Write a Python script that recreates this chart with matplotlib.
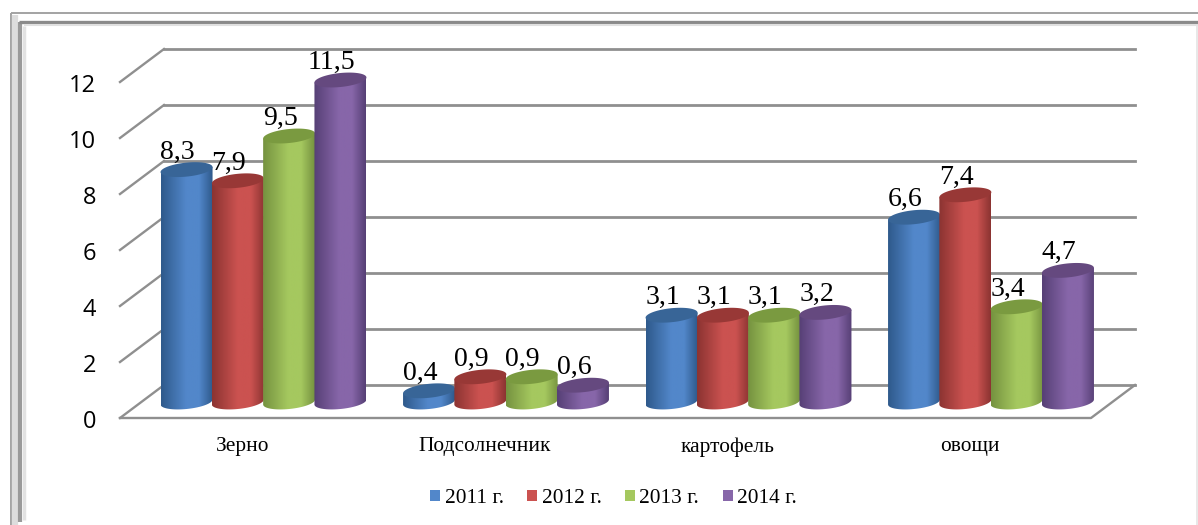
import numpy as np
import matplotlib
matplotlib.use('Agg')
import matplotlib.pyplot as plt
from matplotlib.colors import LinearSegmentedColormap
from matplotlib.patches import PathPatch, Rectangle
from matplotlib.path import Path

categories = ['Зерно', 'Подсолнечник', 'картофель', 'овощи']
years = ['2011 г.', '2012 г.', '2013 г.', '2014 г.']
v2011 = [8.3, 0.4, 3.1, 6.6]
v2012 = [7.9, 0.9, 3.1, 7.4]
v2013 = [9.5, 0.9, 3.1, 3.4]
v2014 = [11.5, 0.6, 3.2, 4.7]
y_ticks = [0, 2, 4, 6, 8, 10, 12]

light = ['#5287CA', '#CB5250', '#A5C85F', '#8766A9']
dark = ['#2F5A8C', '#8C3432', '#769340', '#574076']
top = ['#386597', '#983836', '#7A9A40', '#65497F']

W, H = 1198, 525
# one category = 242.5 px, one unit = 28 px, first group centre and bar base in px
PX_CAT = 242.5
PX_UNIT = 28.0
X0 = 263.5
Y0 = 402.0


def dx(px):
    return (px - X0) / PX_CAT


def dy(py):
    return (Y0 - py) / PX_UNIT


def cylinder(ax, cx, value, i, z):
    w = 26.0 / PX_CAT
    b = 7.0 / PX_UNIT
    tilt = 2.5 / PX_UNIT
    t = np.linspace(0, 2 * np.pi, 80)
    ex = np.cos(t)
    # ellipses lean up to the right
    ey = b * np.sin(t) + tilt * ex
    low = t >= np.pi
    order = np.argsort(ex[low])
    bx, by = ex[low][order], ey[low][order]
    xs = np.r_[cx + w * bx, cx + w, cx - w, cx - w]
    ys = np.r_[by, value + tilt, value - tilt, by[0]]
    body = PathPatch(Path(np.c_[xs, ys]), fc='none', ec='none', zorder=z)
    ax.add_patch(body)
    cmap = LinearSegmentedColormap.from_list('c', [dark[i], light[i], light[i], dark[i]])
    grad = cmap(np.interp(np.linspace(0, 1, 64), [0, 0.55, 0.7, 1], [0, 0.38, 0.62, 1]))[None, :, :]
    im = ax.imshow(grad, extent=(cx - w, cx + w, -b - tilt, value + tilt), aspect='auto', zorder=z)
    im.set_clip_path(body)
    ax.fill(cx + w * ex, value + ey, fc=top[i], ec='none', zorder=z + 0.1)


fig = plt.figure(figsize=(W / 100, H / 100), dpi=100)
ax = fig.add_axes([0, 0, 1, 1])
ax.axis('off')

# walls and floor
grid_c = '#8f8f8f'
front_x, back_x = dx(120), dx(164)
right_front, right_back = dx(1091), dx(1135)
front_off = dy(418)
back_off = dy(385)
for v in y_ticks:
    ax.plot([front_x, back_x], [v + front_off, v + back_off], color=grid_c, lw=1.7, zorder=1)
    ax.plot([back_x, right_back], [v + back_off, v + back_off], color=grid_c, lw=2.0, zorder=1)
    ax.text(dx(96), v + front_off - 4.5 / PX_UNIT, str(v), ha='right', va='center',
            fontsize=17, family='Open Sans', color='black', zorder=2)
ax.plot([front_x, right_front, right_back], [front_off, front_off, back_off], color=grid_c, lw=1.7, zorder=1)

series = [v2011, v2012, v2013, v2014]
bar_step = 51.3 / PX_CAT
for g in range(len(categories)):
    for i, vals in enumerate(series):
        cx = g + (i - 1.5) * bar_step
        cylinder(ax, cx, vals[g], i, 5 + g + i * 0.2)
        label = f'{vals[g]:.1f}'.replace('.', ',')
        ax.text(cx - 9 / PX_CAT, vals[g] + 17.5 / PX_UNIT, label, ha='center', va='center',
                fontsize=20, family='Liberation Serif', color='black', zorder=3)
    ax.text(g - 21 / PX_CAT, dy(447), categories[g], ha='center', va='center',
            fontsize=15.4, family='Liberation Serif', color='black', zorder=3)

# outer decorative frame
frame = [
    ([11, 11], [525, 13], '#a3a3a3', 1.4),
    ([11, W], [13, 13], '#a3a3a3', 1.4),
    ([15, 15], [525, 15], '#dddddd', 4.5),
    ([20, 20], [522, 22], '#9a9a9a', 3.0),
    ([24, 24], [520, 26], '#e2e2e2', 2.5),
    ([19, W], [22, 22], '#8a8a8a', 2.4),
    ([24, W], [25, 25], '#e0e0e0', 1.5),
    ([W - 1, W - 1], [25, H], '#e4e4e4', 1.2),
]
for xs, ys, c, lw in frame:
    ax.plot([dx(p) for p in xs], [dy(p) for p in ys], color=c, lw=lw, zorder=12, solid_capstyle='butt')

handles = [Rectangle((0, 0), 1, 1, fc=light[i]) for i in range(4)]
ax.legend(handles, years, loc='center', bbox_to_anchor=(613.5 / W, 1 - 498.5 / H), ncol=4, frameon=False,
          prop={'family': 'Liberation Serif', 'size': 15.4}, handlelength=0.47, handleheight=0.47,
          handletextpad=0.2, columnspacing=1.1, borderpad=0)

ax.set_xlim(dx(0), dx(W))
ax.set_ylim(dy(H), dy(0))
fig.savefig('out.png', dpi=100)
